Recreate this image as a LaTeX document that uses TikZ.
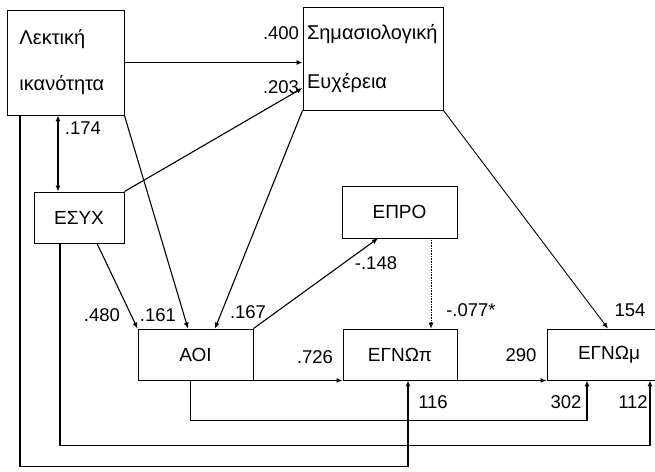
\documentclass[tikz,border=0pt]{standalone}
\usepackage{fontspec}
\setmainfont{Liberation Sans}
\usetikzlibrary{arrows.meta, positioning, calc}
\tikzset{
  box/.style={draw=black, line width=0.9pt, fill=white, align=center, inner sep=0pt, font=\fontsize{19}{22}\selectfont},
  twobox/.style={box, align=left, inner ysep=0pt, font=\fontsize{20}{24}\selectfont},
  arrow/.style={-{Latex[length=6pt, width=5pt]}, line width=1.1pt, draw=black},
  backline/.style={arrow, line width=1.5pt}
}
\begin{document}
\begin{tikzpicture}[x=1pt, y=-1pt,
  lbl/.style={inner sep=0pt, font=\fontsize{18.5}{22}\selectfont}
]
\useasboundingbox (0,0) rectangle (655,471);

% boxes
\node[twobox, minimum width=117pt, minimum height=105pt, text width=92pt, inner xsep=12.5pt] (lex) at (65.5,62.5) {Λεκτική\\[22pt]ικανότητα};
\node[twobox, minimum width=140pt, minimum height=103pt, text width=132pt, inner xsep=4pt] (sem) at (373,58.5) {Σημασιολογική\\[25pt]Ευχέρεια};
\node[box, minimum width=90pt, minimum height=51pt] (esyx) at (79,217.5) {ΕΣΥΧ};
\node[box, line width=0.6pt, minimum width=115pt, minimum height=52pt] (epro) at (399.5,212) {ΕΠΡΟ};
\node[box, minimum width=115pt, minimum height=51pt] (aoi) at (195.5,354.5) {ΑΟΙ};
\node[box, minimum width=114pt, minimum height=51pt] (egnp) at (400,354.5) {ΕΓΝΩπ};
\node[box, minimum width=124pt, minimum height=51pt] (egnm) at (609,354.5) {ΕΓΝΩμ};

% paths
\draw[arrow] (lex.east) -- (lex.east -| sem.west);
\draw[arrow] (esyx.north east) -- ([yshift=-29.5pt]sem.west);
\draw[arrow, {Latex[length=6pt, width=5pt]}-{Latex[length=6pt, width=5pt]}] ([xshift=-7.5pt]lex.south) -- ([xshift=-7.5pt]lex.south |- esyx.north);
\draw[arrow] (lex.south east) -- ([xshift=-7.5pt]aoi.north);
\draw[arrow] (sem.south west) -- ([xshift=19.5pt]aoi.north);
\draw[arrow] ([xshift=18pt]esyx.south) -- (aoi.north west);
\draw[arrow] (aoi.north east) -- ([xshift=-21.5pt]epro.south);
\draw[arrow, line width=0.6pt, densely dotted] ([xshift=31.5pt]epro.south) -- ([xshift=31.5pt]epro.south |- egnp.north);
\draw[arrow, line width=0.9pt] (sem.south east) -- ([xshift=-1pt]egnm.north);
\draw[arrow] (aoi.south east) -- (egnp.south west);
\draw[arrow] (egnp.south east) -- (egnm.south west);
\draw[backline] ([xshift=-5pt]aoi.south) -- ++(0,40) -| ([xshift=-22pt]egnm.south);
\draw[backline] ([xshift=-19pt]esyx.south) -- ++(0,202) -| ([xshift=41pt]egnm.south);
\draw[backline] ([xshift=-45.5pt]lex.south) -- ++(0,351) -| ([xshift=8pt]egnp.south);

% coefficients
\node[lbl] (c400) at (281,33) {.400};
\node[lbl] (c203) at (281,87) {.203};
\node[lbl] (c174) at (83,128) {.174};
\node[lbl] (c480) at (102,315) {.480};
\node[lbl] (c161) at (158,315) {.161};
\node[lbl] (c167) at (248,312) {.167};
\node[lbl] (c148) at (376,263) {-.148};
\node[lbl] (c077) at (471,310) {-.077*};
\node[lbl] (c154) at (630,310) {154};
\node[lbl] (c726) at (315,357) {.726};
\node[lbl] (c290) at (521,355) {290};
\node[lbl] (c116) at (433,402) {116};
\node[lbl] (c302) at (566,402) {302};
\node[lbl] (c112) at (633,402) {112};
\end{tikzpicture}
\end{document}
